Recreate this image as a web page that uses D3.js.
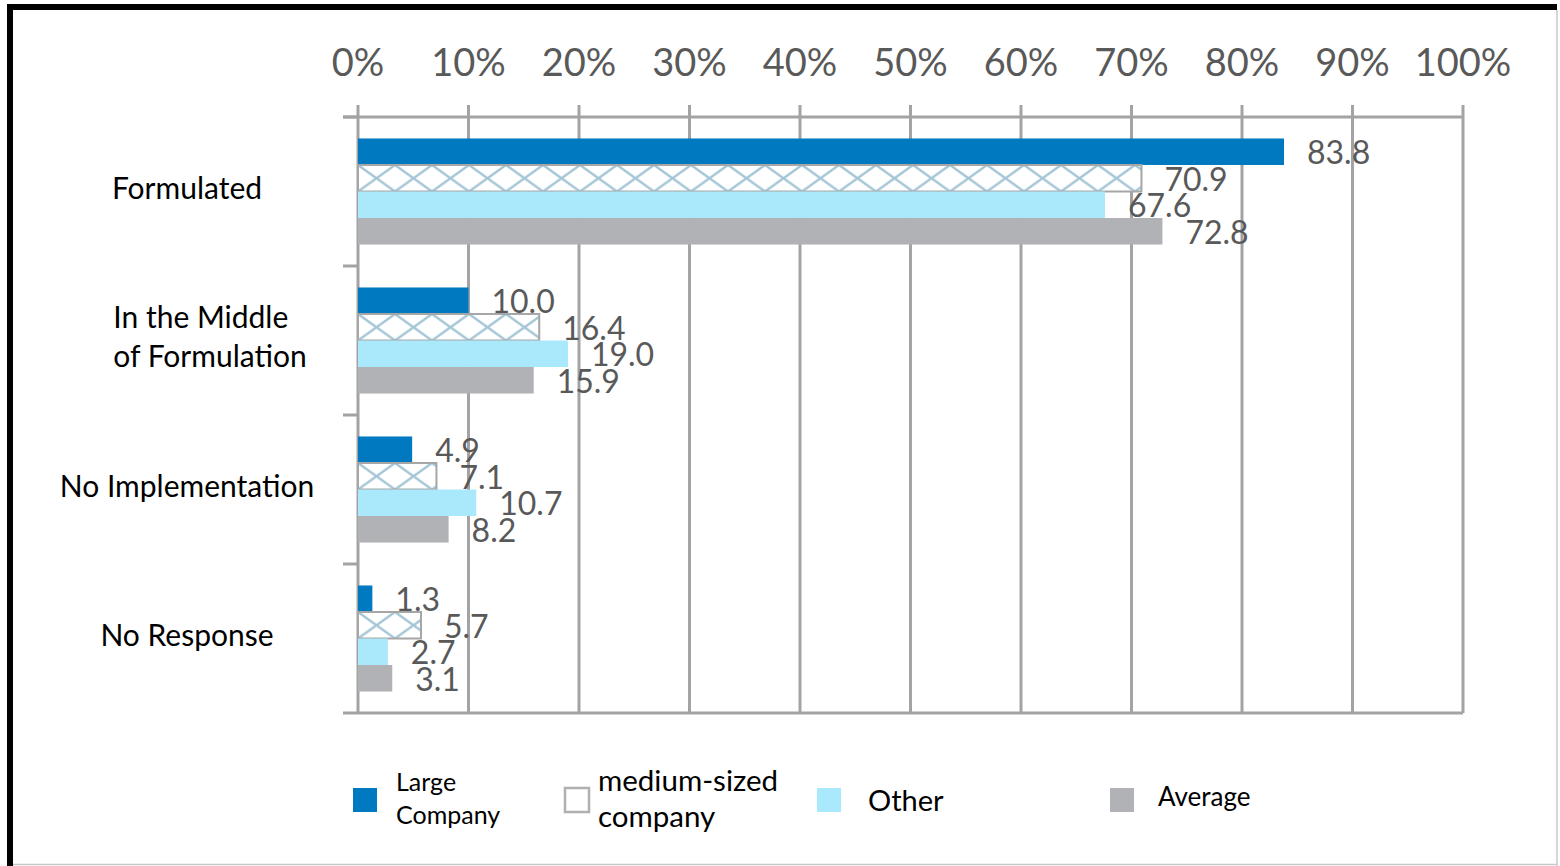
<!DOCTYPE html>
<html>
<head>
<meta charset="utf-8">
<script src="https://cdn.jsdelivr.net/npm/d3@7"></script>
<style>
  body { margin: 0; background: #fff; }
  svg { display: block; }
  text { font-family: Lato, "Open Sans", sans-serif; }
</style>
</head>
<body>
<svg id="chart" width="1560" height="866"></svg>
<script>
// Data
const categories = ["Formulated", "In the Middle\nof Formulation", "No Implementation", "No Response"];
const series = ["Large Company", "medium-sized company", "Other", "Average"];
const large = [83.8, 10.0, 4.9, 1.3];
const medium = [70.9, 16.4, 7.1, 5.7];
const other = [67.6, 19.0, 10.7, 2.7];
const average = [72.8, 15.9, 8.2, 3.1];
const xTicks = [0, 10, 20, 30, 40, 50, 60, 70, 80, 90, 100];

const values = [large, medium, other, average];
const colors = ["#0079c1", "#fff", "#aae8fc", "#b1b2b6"];

const svg = d3.select("#chart");

// frame
svg.append("rect").attr("x", 7).attr("y", 4).attr("width", 1550).attr("height", 6).attr("fill", "#000");
svg.append("rect").attr("x", 7).attr("y", 4).attr("width", 6).attr("height", 862).attr("fill", "#000");
svg.append("line").attr("x1", 1557).attr("x2", 1557).attr("y1", 10).attr("y2", 866).attr("stroke", "#c8c8c8").attr("stroke-width", 1.5);
svg.append("line").attr("x1", 13).attr("x2", 1557).attr("y1", 864.5).attr("y2", 864.5).attr("stroke", "#c8c8c8").attr("stroke-width", 1.5);

const x = d3.scaleLinear().domain([0, 100]).range([358, 1463]);
const y = d3.scaleBand().domain(categories).range([117, 713]);
const ys = d3.scaleBand().domain(series).range([0, y.bandwidth()]).paddingOuter(0.81);

const gridColor = "#a3a3a5";
const bh = ys.bandwidth();

// hatch patterns for medium-sized bars, one per category so crosses line up
const defs = svg.append("defs");
categories.forEach((c, i) => {
  const pat = defs.append("pattern")
    .attr("id", "hatch" + i)
    .attr("patternUnits", "userSpaceOnUse")
    .attr("width", 37)
    .attr("height", bh)
    .attr("x", x(0))
    .attr("y", y(c) + ys(series[1]));
  pat.append("rect").attr("width", 37).attr("height", bh).attr("fill", "#fff");
  pat.append("path")
    .attr("d", `M0,0L37,${bh}M0,${bh}L37,0`)
    .attr("stroke", "#a4c6d6").attr("stroke-width", 2.4).attr("fill", "none");
});

// gridlines
svg.append("g").selectAll("line").data(xTicks).join("line")
  .attr("x1", d => x(d)).attr("x2", d => x(d))
  .attr("y1", 105).attr("y2", 713)
  .attr("stroke", gridColor).attr("stroke-width", 3);

// top and bottom lines
svg.append("line").attr("x1", 343).attr("x2", x(100)).attr("y1", 117).attr("y2", 117)
  .attr("stroke", gridColor).attr("stroke-width", 3);
svg.append("line").attr("x1", x(0)).attr("x2", x(100)).attr("y1", 713).attr("y2", 713)
  .attr("stroke", gridColor).attr("stroke-width", 3);

// left category ticks
const bounds = categories.map(c => y(c)).concat([713]);
svg.append("g").selectAll("line").data(bounds).join("line")
  .attr("x1", 343).attr("x2", x(0))
  .attr("y1", d => d).attr("y2", d => d)
  .attr("stroke", gridColor).attr("stroke-width", 3);

// x tick labels
svg.append("g").selectAll("text").data(xTicks).join("text")
  .attr("x", d => x(d)).attr("y", 61)
  .attr("text-anchor", "middle").attr("dominant-baseline", "central")
  .attr("font-size", 38).attr("fill", "#595959")
  .text(d => d + "%");

// bars
series.forEach((s, si) => {
  svg.append("g").selectAll("rect").data(values[si]).join("rect")
    .attr("x", x(0))
    .attr("y", (d, i) => y(categories[i]) + ys(s))
    .attr("width", d => x(d) - x(0))
    .attr("height", bh)
    .attr("fill", (d, i) => si === 1 ? `url(#hatch${i})` : colors[si])
    .attr("stroke", si === 1 ? "#a6a6a6" : "none")
    .attr("stroke-width", 2);
});

// value labels
series.forEach((s, si) => {
  svg.append("g").selectAll("text").data(values[si]).join("text")
    .attr("x", d => x(d) + 23)
    .attr("y", (d, i) => y(categories[i]) + ys(s) + bh / 2)
    .attr("dominant-baseline", "central")
    .attr("font-size", 32).attr("fill", "#595959")
    .text(d => d.toFixed(1));
});

// category labels
categories.forEach(c => {
  const lines = c.split("\n");
  const cy = y(c) + y.bandwidth() / 2 - 5;
  const lh = 39;
  const t = svg.append("text")
    .attr("font-size", 30).attr("fill", "#000")
    .attr("dominant-baseline", "central");
  lines.forEach((l, li) => {
    t.append("tspan")
      .attr("x", 0)
      .attr("y", cy + (li - (lines.length - 1) / 2) * lh)
      .text(l);
  });
  if (lines.length === 1) {
    t.attr("text-anchor", "middle").selectAll("tspan").attr("x", 187);
  } else {
    const w = t.node().getBBox().width;
    t.selectAll("tspan").attr("x", 210 - w / 2);
  }
});

// legend
const legend = [
  { sq: 353, tx: 396, lines: ["Large", "Company"], fs: 25, cy: 797, lh: 33 },
  { sq: 565, tx: 598, lines: ["medium-sized", "company"], fs: 29.5, cy: 797, lh: 36 },
  { sq: 817, tx: 868, lines: ["Other"], fs: 29, cy: 799, lh: 0 },
  { sq: 1110, tx: 1158, lines: ["Average"], fs: 26, cy: 796, lh: 0 }
];
legend.forEach((d, i) => {
  svg.append("rect")
    .attr("x", d.sq).attr("y", 788).attr("width", 24).attr("height", 24)
    .attr("fill", colors[i])
    .attr("stroke", i === 1 ? "#b0b0b0" : "none")
    .attr("stroke-width", 2.5);
  const t = svg.append("text").attr("font-size", d.fs).attr("fill", "#000")
    .attr("dominant-baseline", "central");
  d.lines.forEach((l, li) => {
    t.append("tspan").attr("x", d.tx)
      .attr("y", d.cy + (li - (d.lines.length - 1) / 2) * d.lh)
      .text(l);
  });
});
</script>
</body>
</html>
